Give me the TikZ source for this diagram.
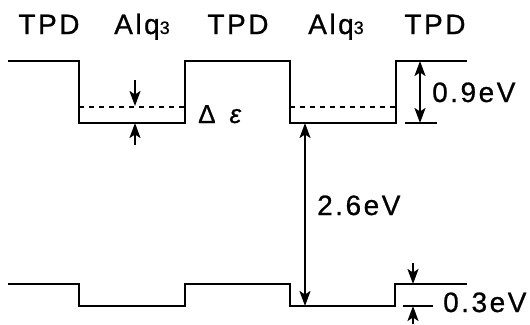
\documentclass[tikz,border=0pt]{standalone}
\usepackage{fontspec}
\setmainfont{Liberation Sans}[LetterSpace=9,FakeBold=0.8]
\usetikzlibrary{arrows.meta}
\begin{document}
\begin{tikzpicture}[x=1pt,y=-1pt,
  lvl/.style={line width=2pt,line join=miter},
  dashlvl/.style={line width=1.6pt,dash pattern=on 5pt off 5pt},
  tick/.style={line width=1.6pt},
  dim/.style={line width=1.8pt,-{Stealth[length=15pt,width=11pt,inset=3.5pt]}},
  ddim/.style={line width=1.8pt,{Stealth[length=15pt,width=11pt,inset=3.5pt]}-{Stealth[length=15pt,width=11pt,inset=3.5pt]}},
  lbl/.style={font=\fontsize{28}{30}\selectfont,inner sep=0pt}]
\useasboundingbox (0,0) rectangle (530,324);
% header labels
\node[lbl,anchor=base] (h1) at (49,34) {TPD};
\node[lbl,anchor=base] (h2) at (142,34) {Alq{\fontsize{18}{18}\selectfont 3}};
\node[lbl,anchor=base] (h3) at (238,34) {TPD};
\node[lbl,anchor=base] (h4) at (336,34) {Alq{\fontsize{18}{18}\selectfont 3}};
\node[lbl,anchor=base] (h5) at (435,34) {TPD};
% upper levels
\draw[lvl] (8,61) -- (79,61) -- (79,123) -- (185,123) -- (185,61) -- (290,61) -- (290,123) -- (396,123) -- (396,61) -- (467,61);
\draw[dashlvl] (79,107) -- (185,107);
\draw[dashlvl] (290,107) -- (396,107);
% lower levels
\draw[lvl] (8,284) -- (79,284) -- (79,306) -- (185,306) -- (185,284) -- (290,284) -- (290,306) -- (395,306) -- (395,284) -- (467,284);
% ticks
\coordinate (t9a) at (405,123); \coordinate (t9b) at (437,123);
\draw[tick] (t9a) -- (t9b);
\coordinate (t3a) at (403,306); \coordinate (t3b) at (433,306);
\draw[tick] (t3a) -- (t3b);
% delta epsilon arrows
\coordinate (de1) at (135,80); \coordinate (de2) at (135,106);
\coordinate (de3) at (135,145); \coordinate (de4) at (135,123);
\draw[dim] (de1) -- (de2);
\draw[dim] (de3) -- (de4);
\node[anchor=base west,inner sep=0pt,font=\fontsize{26}{28}\selectfont] (de) at (198,123) {Δ\hspace{14pt}\textit{ε}};
% 2.6 eV
\coordinate (g1) at (305,123); \coordinate (g2) at (305,306);
\draw[ddim] (g1) -- (g2);
\node[lbl,anchor=base west] (l26) at (317,215) {2.6eV};
% 0.9 eV
\coordinate (n1) at (420,61); \coordinate (n2) at (420,123);
\draw[ddim] (n1) -- (n2);
\node[lbl,anchor=base west] (l09) at (432,102) {0.9eV};
% 0.3 eV
\coordinate (s1) at (413,263); \coordinate (s2) at (413,284);
\coordinate (s3) at (413,324); \coordinate (s4) at (413,306);
\draw[dim] (s1) -- (s2);
\draw[dim] (s3) -- (s4);
\node[lbl,anchor=base west] (l03) at (443,312) {0.3eV};
\end{tikzpicture}
\end{document}
